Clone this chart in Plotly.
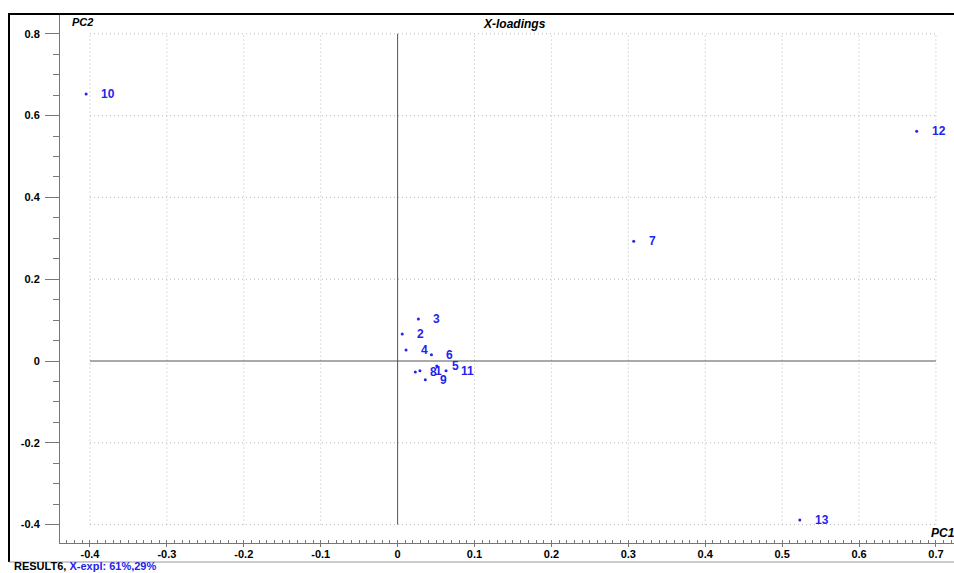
import plotly.graph_objects as go

# ---- data ----
labels = ["1", "2", "3", "4", "5", "6", "7", "8", "9", "10", "11", "12", "13"]
pc1 = [0.029, 0.006, 0.027, 0.011, 0.051, 0.044, 0.307, 0.023, 0.036, -0.405, 0.063, 0.675, 0.523]
pc2 = [-0.024, 0.066, 0.103, 0.027, -0.012, 0.015, 0.293, -0.027, -0.046, 0.653, -0.024, 0.562, -0.389]

x_ticks = [-0.4, -0.3, -0.2, -0.1, 0.0, 0.1, 0.2, 0.3, 0.4, 0.5, 0.6, 0.7]
x_tick_labels = ["-0.4", "-0.3", "-0.2", "-0.1", "0", "0.1", "0.2", "0.3", "0.4", "0.5", "0.6", "0.7"]
y_ticks = [-0.4, -0.2, 0.0, 0.2, 0.4, 0.6, 0.8]
y_tick_labels = ["-0.4", "-0.2", "0", "0.2", "0.4", "0.6", "0.8"]

title = "X-loadings"
x_name = "PC1"
y_name = "PC2"
footer_black = "RESULT6, "
footer_blue = "X-expl: 61%,29%"

BLUE = "#2323ee"
FONT = "Liberation Sans, Arial, sans-serif"

W, H = 954, 573
ML, MR, MT, MB = 60, 0, 15, 30
PW, PH = W - ML - MR, H - MT - MB


def px_x(p):
    return (p - ML) / PW


def px_y(p):
    return (H - MB - p) / PH


fig = go.Figure()

fig.add_trace(go.Scatter(
    x=pc1, y=pc2, mode="markers",
    marker=dict(size=3, color=BLUE, line=dict(width=0)),
    hoverinfo="text", text=labels, showlegend=False,
))

shapes = []
xmin, xmax = x_ticks[0], x_ticks[-1]
ymin, ymax = y_ticks[0], y_ticks[-1]
for xt in x_ticks:
    if xt == 0:
        continue
    shapes.append(dict(type="line", xref="x", yref="y", x0=xt, x1=xt, y0=ymin, y1=ymax,
                       line=dict(color="#b8b8b8", width=1, dash="1px,3px"), layer="below"))
for yt in y_ticks:
    if yt == 0:
        continue
    shapes.append(dict(type="line", xref="x", yref="y", x0=xmin, x1=xmax, y0=yt, y1=yt,
                       line=dict(color="#b8b8b8", width=1, dash="1px,3px"), layer="below"))
# axis cross lines
shapes.append(dict(type="line", xref="x", yref="y", x0=0, x1=0, y0=ymin, y1=ymax,
                   line=dict(color="#555555", width=1), layer="below"))
shapes.append(dict(type="line", xref="x", yref="y", x0=xmin, x1=xmax, y0=0, y1=0,
                   line=dict(color="#555555", width=1), layer="below"))
# frame lines
shapes.append(dict(type="line", xref="paper", yref="paper", x0=px_x(8), x1=px_x(W), y0=px_y(14), y1=px_y(14),
                   line=dict(color="black", width=2)))
shapes.append(dict(type="line", xref="paper", yref="paper", x0=px_x(9), x1=px_x(9), y0=px_y(14), y1=px_y(562),
                   line=dict(color="black", width=2)))
shapes.append(dict(type="line", xref="paper", yref="paper", x0=px_x(9), x1=px_x(W), y0=px_y(562), y1=px_y(562),
                   line=dict(color="#999999", width=1)))

annotations = []
for lx, ly, t in zip(pc1, pc2, labels):
    annotations.append(dict(x=lx, y=ly, xref="x", yref="y", text="<b>%s</b>" % t,
                            showarrow=False, xanchor="left", yanchor="middle", xshift=13,
                            font=dict(family=FONT, size=12, color=BLUE)))
annotations.append(dict(x=px_x(70), y=px_y(22), xref="paper", yref="paper",
                        text="<b><i>%s</i></b>" % y_name, showarrow=False,
                        xanchor="left", yanchor="middle",
                        font=dict(family=FONT, size=11, color="black")))
annotations.append(dict(x=px_x(514), y=px_y(24), xref="paper", yref="paper",
                        text="<b><i>%s</i></b>" % title, showarrow=False,
                        xanchor="center", yanchor="middle",
                        font=dict(family=FONT, size=12, color="black")))
annotations.append(dict(x=px_x(929), y=px_y(533), xref="paper", yref="paper",
                        text="<b><i>%s</i></b>" % x_name, showarrow=False,
                        xanchor="left", yanchor="middle",
                        font=dict(family=FONT, size=12, color="black")))
annotations.append(dict(x=px_x(12), y=px_y(566), xref="paper", yref="paper",
                        text="<b>%s</b><span style='color:%s'><b>%s</b></span>" % (footer_black, BLUE, footer_blue),
                        showarrow=False, xanchor="left", yanchor="middle",
                        font=dict(family=FONT, size=11, color="black")))

# axis ranges derived from pixel layout of the reference
x_range = [-0.439, 0.7235]
y_range = [-0.445, 0.846]

fig.update_layout(
    width=W, height=H,
    margin=dict(l=ML, r=MR, t=MT, b=MB, pad=0),
    paper_bgcolor="white", plot_bgcolor="white",
    shapes=shapes, annotations=annotations,
    font=dict(family=FONT),
    xaxis=dict(
        range=x_range, showgrid=False, zeroline=False,
        showline=True, linecolor="#777777", linewidth=1, mirror=False,
        tickmode="array", tickvals=x_ticks, ticktext=x_tick_labels,
        ticks="outside", ticklen=3, tickcolor="#777777",
        ticklabelstandoff=-2,
        tickfont=dict(family=FONT, size=11, color="black", weight="bold"),
        minor=dict(dtick=0.01, ticks="inside", ticklen=3, tickcolor="#777777", showgrid=False),
        fixedrange=True,
    ),
    yaxis=dict(
        range=y_range, showgrid=False, zeroline=False,
        showline=True, linecolor="#777777", linewidth=1, mirror=False,
        tickmode="array", tickvals=y_ticks, ticktext=y_tick_labels,
        ticks="outside", ticklen=14, tickcolor="#777777",
        ticklabelstandoff=3,
        tickfont=dict(family=FONT, size=11, color="black", weight="bold"),
        minor=dict(dtick=0.05, tick0=0, ticks="outside", ticklen=6, tickcolor="#777777", showgrid=False),
        fixedrange=True,
    ),
)

fig.write_html(
    "out.html",
    config={"displayModeBar": False},
    post_script="document.body.style.margin='0';document.body.style.overflow='hidden';",
)
